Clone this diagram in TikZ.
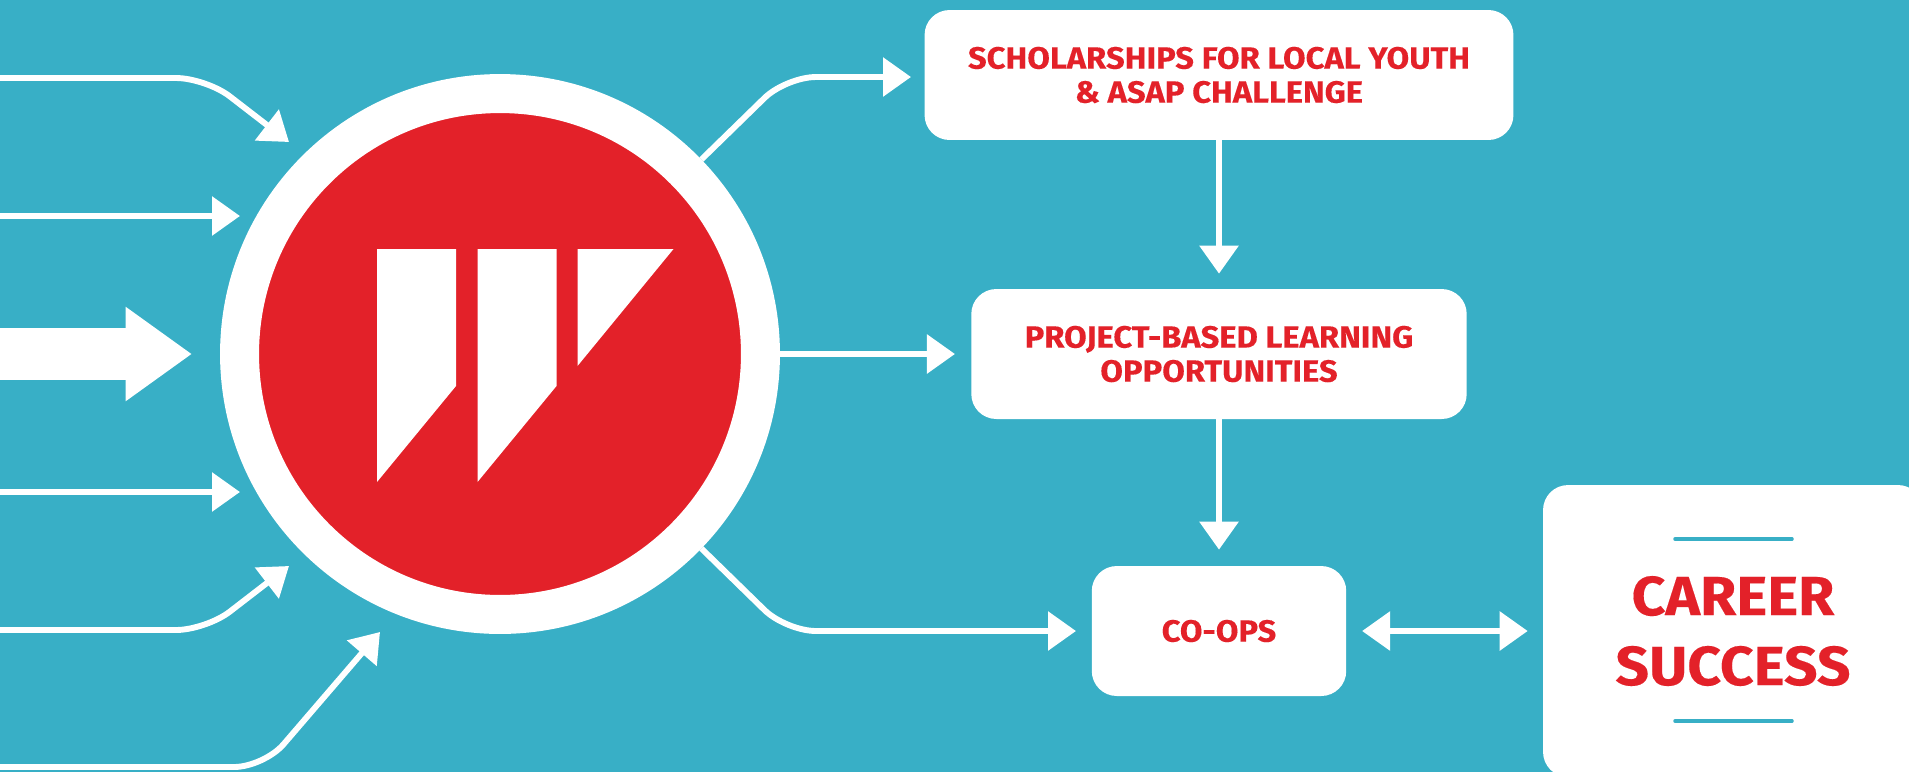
\documentclass[tikz,border=0pt]{standalone}
\usepackage{fontspec}
\setmainfont{Fira Sans}[BoldFeatures={FakeStretch=1.065,FakeBold=0.25}]
\usetikzlibrary{arrows.meta}
\definecolor{bgteal}{HTML}{38AFC6}
\definecolor{logored}{HTML}{E32129}
\tikzset{
    link/.style={draw=white,line width=0.118cm,rounded corners=0.6cm,-{Triangle[length=0.56cm,width=0.76cm]}},
    duallink/.style={link,{Triangle[length=0.56cm,width=0.76cm]}-{Triangle[length=0.56cm,width=0.76cm]}},
    biglink/.style={draw=white,line width=1.04cm,-{Triangle[length=1.33cm,width=1.8cm]}},
    stepbox/.style={rectangle,rounded corners=0.5cm,fill=white,inner sep=0pt,align=center,text=logored,
        minimum height=2.6cm,font=\bfseries\fontsize{17.5}{19.4}\selectfont},
    goalbox/.style={stepbox,minimum width=7.6cm,minimum height=5.84cm,font=\bfseries\fontsize{31.4}{39.8}\selectfont},
    logocircle/.style={circle,fill=logored,draw=white,line width=0.78cm,inner sep=0pt,minimum size=10.42cm},
    logobar/.style={fill=white},
    goalrule/.style={draw=bgteal,line width=0.07cm,line cap=round}
}
\begin{document}
\begin{tikzpicture}[x=0.02cm,y=-0.02cm]
\clip (0,0) rectangle (1909,772);
\fill[bgteal] (0,0) rectangle (1909,772);

\node[logocircle] (logo) at (500,354) {};
\foreach \x in {0,100.5}{
    \fill[logobar] (377+\x,249)--(456+\x,249)--(456+\x,386)--(377+\x,482)--cycle;
}
\fill[logobar] (577.5,249)--(673.5,249)--(577.5,366)--cycle;

\node[stepbox,minimum width=11.78cm] (scholar) at (1219,75) {SCHOLARSHIPS FOR LOCAL YOUTH\\\& ASAP CHALLENGE};
\node[stepbox,minimum width=9.91cm] (project) at (1219,354) {PROJECT-BASED LEARNING\\OPPORTUNITIES};
\node[stepbox,minimum width=5.09cm] (coops) at (1219,631) {CO-OPS};
\node[goalbox] (career) at (1733,631) {CAREER\\SUCCESS};

\draw[goalrule] (1675,539)--(1792,539);
\draw[goalrule] (1675,721)--(1792,721);

\coordinate (inA) at (-6,78);
\coordinate (bendA) at (206,78);
\coordinate (tipA) at (289,142);
\coordinate (inB) at (-6,216);
\coordinate (tipB) at (240,216);
\coordinate (inC) at (-6,354);
\coordinate (tipC) at (192,354);
\coordinate (inD) at (-6,492);
\coordinate (tipD) at (240,492);
\coordinate (inE) at (-6,630);
\coordinate (bendE) at (206,630);
\coordinate (tipE) at (289,566);
\coordinate (inF) at (-6,767);
\coordinate (bendF) at (264,767);
\coordinate (tipF) at (380,632);
\draw[link] (inA)--(bendA)--(tipA);
\draw[link] (inB)--(tipB);
\draw[biglink] (inC)--(tipC);
\draw[link] (inD)--(tipD);
\draw[link] (inE)--(bendE)--(tipE);
\draw[link] (inF)--(bendF)--(tipF);

\coordinate (bendG) at (786,77);
\coordinate (tipG) at (911,77);
\coordinate (bendH) at (786,631);
\coordinate (tipH) at (1076,631);
\draw[link] (logo.44)--(bendG)--(tipG);
\draw[link,shorten >=0.32cm] (logo.east)--(project.west);
\draw[link] (logo.-44)--(bendH)--(tipH);

\draw[link,shorten >=0.3cm] (scholar.south)--(project.north);
\draw[link,shorten >=0.32cm] (project.south)--(coops.north);
\draw[duallink,shorten <=0.31cm,shorten >=0.3cm] (coops.east)--(career.west);

\end{tikzpicture}
\end{document}
